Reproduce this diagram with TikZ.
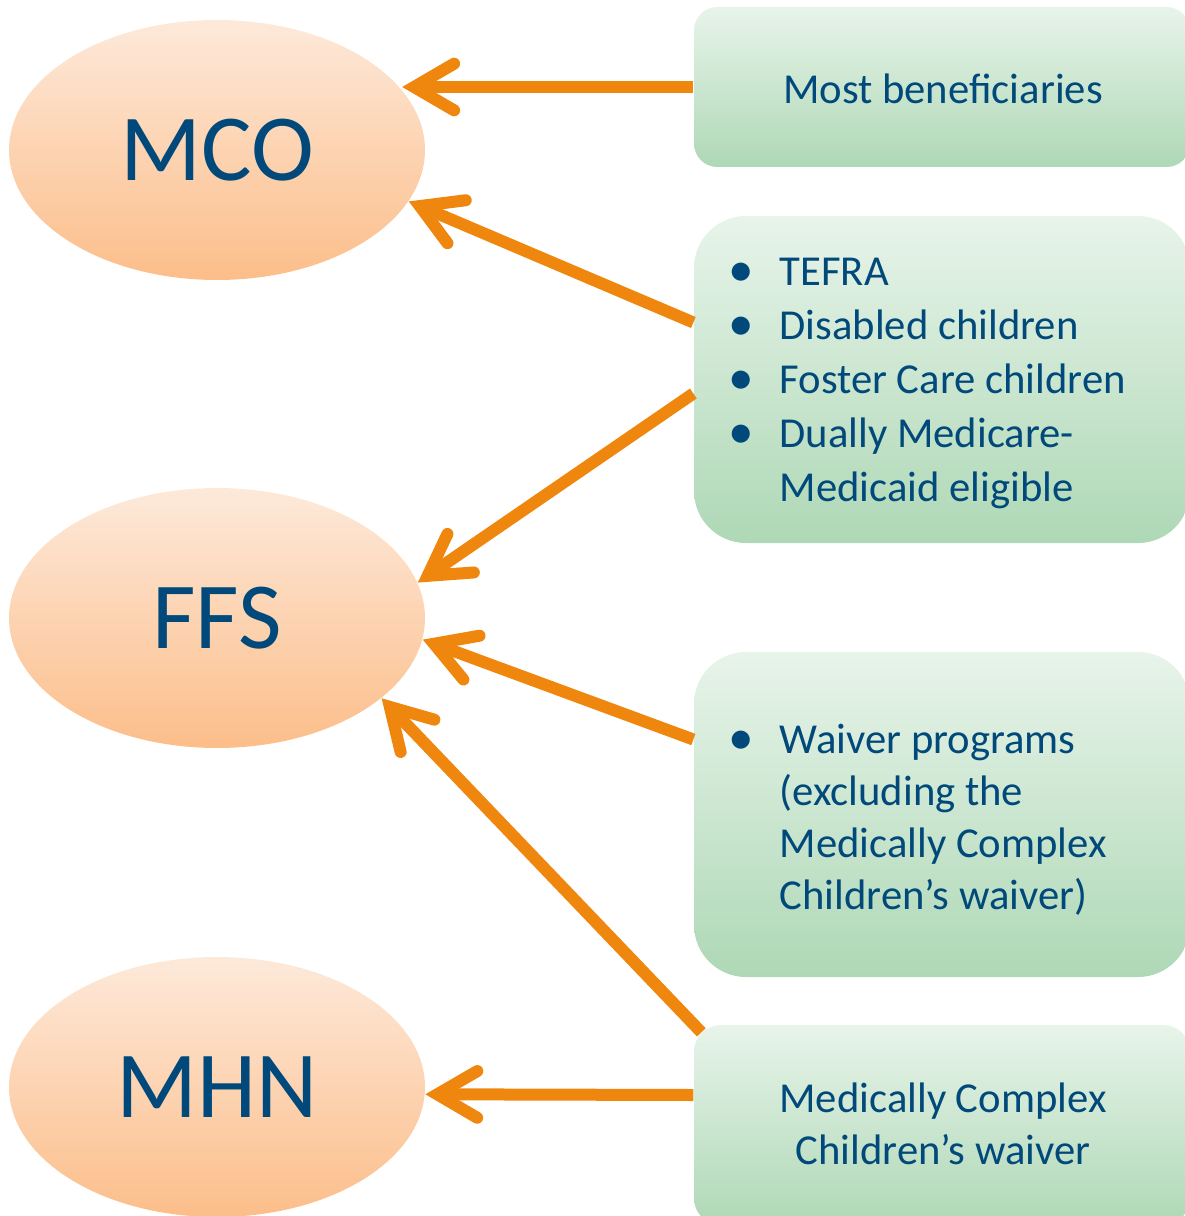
\documentclass[tikz,border=0pt]{standalone}
\usepackage{fontspec}
\setmainfont{Carlito}
\usetikzlibrary{shapes.geometric,arrows.meta,calc}
\definecolor{arroworange}{RGB}{239,135,15}
\definecolor{textblue}{RGB}{0,73,122}
\definecolor{peachtop}{RGB}{253,233,218}
\definecolor{peachbot}{RGB}{252,190,138}
\definecolor{greentop}{RGB}{232,244,234}
\definecolor{greenbot}{RGB}{174,216,182}
\newcommand{\itembul}{\makebox[15.3pt][l]{\raisebox{-0.3pt}{\scalebox{1.2}{\textbullet}}}}
\tikzset{
	>={Straight Barb[length=12pt,width=14pt,line cap=round,line join=miter]},
	plan/.style={ellipse, inner sep=0pt, minimum width=124.8pt, minimum height=78pt,
		top color=peachtop, bottom color=peachbot, text=textblue,
		font=\fontsize{28.4}{34}\selectfont},
	greenbox/.style={rectangle, draw=none, minimum width=148.8pt,
		top color=greentop, bottom color=greenbot},
	boxtext/.style={inner sep=0pt, text=textblue, font=\fontsize{12.8}{16.2}\selectfont},
	feed/.style={draw=arroworange, line width=3.6pt, ->}
}
\begin{document}
\begin{tikzpicture}[x=0.3pt, y=-0.3pt]
			\useasboundingbox (0,0) rectangle (1184,1216);
			% payment models
			\node[plan] (mco) at (217,150) {MCO};
			\node[plan] (ffs) at (217,618) {FFS};
			\node[plan] (mhn) at (217,1087) {MHN};
			% groups
			\node[greenbox, minimum height=48pt, rounded corners=7pt] (box1) at (942,87) {};
			\node[greenbox, minimum height=98.1pt, rounded corners=15.6pt] (box2) at (942,379.5) {};
			\node[greenbox, minimum height=97.5pt, rounded corners=15.6pt] (box3) at (942,814.5) {};
			\node[greenbox, minimum height=60pt, rounded corners=8pt] (box4) at (942,1125) {};
			\node[boxtext] (txt1) at (943,89) {Most beneficiaries};
			\node[boxtext, anchor=west, align=left] (txt2) at (728,383) {\itembul TEFRA\\
				\itembul Disabled children\\ \itembul Foster Care children\\
				\itembul Dually Medicare-\\ \hspace*{15.3pt}Medicaid eligible};
			\node[boxtext, anchor=west, align=left, font=\fontsize{12.8}{15.6}\selectfont] (txt3) at (728,820)
				{\itembul Waiver programs\\ \hspace*{15.3pt}(excluding the\\
				\hspace*{15.3pt}Medically Complex\\ \hspace*{15.3pt}Children’s waiver)};
			\node[boxtext, align=center, font=\fontsize{12.8}{15.6}\selectfont] (txt4) at (943,1124)
				{Medically Complex\\ Children’s waiver};
			% arrows
			\draw[feed] (box1.west) -- (box1.west -| mco.18);
			\draw[feed] ($(box2.west)+(0,-57)$) -- (mco.-15);
			\draw[feed] ($(box2.west)+(0,14)$) -- (ffs.10);
			\draw[feed] ($(box3.west)+(0,-75)$) -- (ffs.-6);
			\draw[feed] ($(box4.north west)+(8,8)$) -- (ffs.-26);
			\draw[feed] ($(box4.west)+(0,-30)$) -- (mhn.-2);
		\end{tikzpicture}
\end{document}
